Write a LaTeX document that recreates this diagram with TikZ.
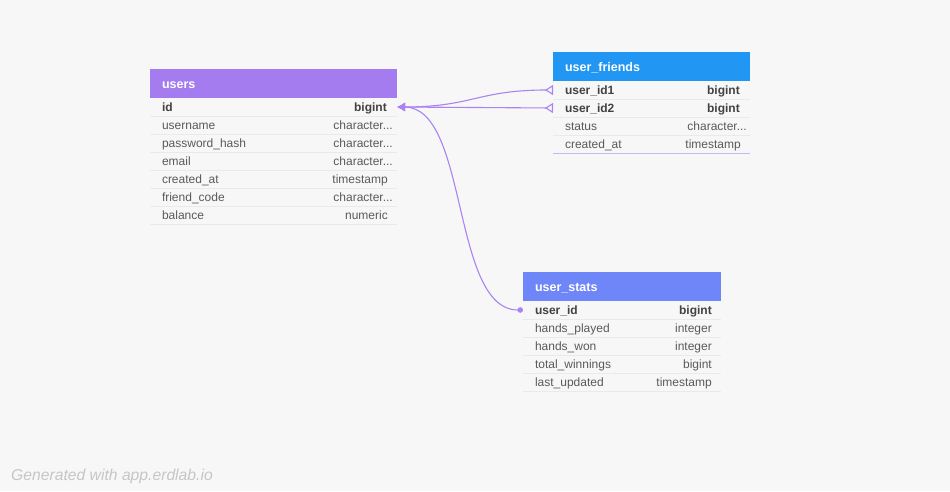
\documentclass[tikz,border=0pt]{standalone}
\usepackage{fontspec}
\setmainfont{Liberation Sans}
\usetikzlibrary{arrows.meta, positioning}

\definecolor{canvas}{HTML}{F7F7F7}
\definecolor{usershead}{HTML}{A47CF0}
\definecolor{friendshead}{HTML}{2196F3}
\definecolor{statshead}{HTML}{6F86F8}
\definecolor{relline}{HTML}{A984F2}
\definecolor{rowline}{HTML}{EAEAEA}
\definecolor{fieldtext}{HTML}{5A5A5A}
\definecolor{keytext}{HTML}{424242}
\definecolor{credittext}{HTML}{C6C6C6}

% truncated type name (kept out of the foreach lists)
\newcommand{\erdchar}{character...}

\tikzset{
	head/.style = {anchor = north west, minimum height = 29pt, inner xsep = 12pt, inner ysep = 0pt,
		outer sep = 0pt, text height = 10.5pt, text depth = 1.5pt, align = left, text = white,
		font = \bfseries\fontsize{12.5}{14}\selectfont},
	field/.style = {minimum height = 18pt, inner xsep = 12pt, inner ysep = 0pt, outer sep = 0pt,
		text height = 10.5pt, text depth = 1.5pt, align = left, text = fieldtext,
		font = \fontsize{12}{14}\selectfont},
	keyfield/.style = {field, text = keytext, font = \bfseries\fontsize{12}{14}\selectfont},
	field-type/.style = {anchor = east, inner sep = 0pt, text height = 10.5pt, text depth = 1.5pt,
		text = fieldtext, font = \fontsize{12}{14}\selectfont},
	keyfield-type/.style = {field-type, text = keytext, font = \bfseries\fontsize{12}{14}\selectfont},
	sep/.style = {rowline, line width = 0.8pt},
	rel/.style = {relline, line width = 1.1pt},
	credit/.style = {anchor = west, inner sep = 0pt, text = credittext,
		font = \itshape\fontsize{15.7}{18}\selectfont}
}

\begin{document}
\begin{tikzpicture}[x = 1pt, y = -1pt]

	% Canvas
	
	\fill [canvas] (0, 0) rectangle (950, 491);
	
	% Table users
	
	\node [head, fill = usershead, text width = 223pt, alias = users-0] (users) at (150, 69) {users};
	\foreach \name/\kind/\pad/\sty [count = \i, remember = \i as \j (initially 0)] in
		{id/bigint/10/keyfield, username/\erdchar/4/field, password\_hash/\erdchar/4/field,
		 email/\erdchar/4/field, created\_at/timestamp/9/field, friend\_code/\erdchar/4/field,
		 balance/numeric/9/field}
	{
		\node [\sty, text width = 223pt, below = 0pt of users-\j] (users-\i) {\name};
		\node [\sty-type] (users-\i-type) at ([xshift = -\pad pt] users-\i.east) {\kind};
		\draw [sep] (users-\i.south west) -- (users-\i.south east);
	}
	
	% Table user_friends
	
	\node [head, fill = friendshead, text width = 173pt, alias = friends-0] (friends) at (553, 52) {user\_friends};
	\foreach \name/\kind/\pad/\sty [count = \i, remember = \i as \j (initially 0)] in
		{user\_id1/bigint/10/keyfield, user\_id2/bigint/10/keyfield,
		 status/\erdchar/3/field, created\_at/timestamp/9/field}
	{
		\node [\sty, text width = 173pt, below = 0pt of friends-\j] (friends-\i) {\name};
		\node [\sty-type] (friends-\i-type) at ([xshift = -\pad pt] friends-\i.east) {\kind};
		\draw [sep] (friends-\i.south west) -- (friends-\i.south east);
	}
	\draw [sep, draw = relline!60] (friends-4.south west) -- (friends-4.south east);
	
	% Table user_stats
	
	\node [head, fill = statshead, text width = 174pt, alias = stats-0] (stats) at (523, 272) {user\_stats};
	\foreach \name/\kind/\pad/\sty [count = \i, remember = \i as \j (initially 0)] in
		{user\_id/bigint/9/keyfield, hands\_played/integer/9/field, hands\_won/integer/9/field,
		 total\_winnings/bigint/9/field, last\_updated/timestamp/9/field}
	{
		\node [\sty, text width = 174pt, below = 0pt of stats-\j] (stats-\i) {\name};
		\node [\sty-type] (stats-\i-type) at ([xshift = -\pad pt] stats-\i.east) {\kind};
		\draw [sep] (stats-\i.south west) -- (stats-\i.south east);
	}
	
	% Relations into users.id
	
	\begin{scope}[rel]
	
		\draw [{Latex[length = 8pt, width = 9pt]}-{Triangle[open, reversed, length = 8pt, width = 10pt]}]
			(users-1.east) .. controls +(75, 0) and +(-75, 0) .. (friends-1.west);
		\draw [{Latex[length = 8pt, width = 9pt]}-{Triangle[open, reversed, length = 8pt, width = 10pt]}]
			(users-1.east) -- (friends-2.west);
		\draw [{Latex[length = 8pt, width = 9pt]}-{Circle[length = 5.5pt]}]
			(users-1.east) .. controls +(72, 0) and +(-72, 0) .. (stats-1.west);
		
	\end{scope}
	
	% Footer
	
	\node [credit] (footer) at (11, 476) {Generated with app.erdlab.io};

\end{tikzpicture}
\end{document}
